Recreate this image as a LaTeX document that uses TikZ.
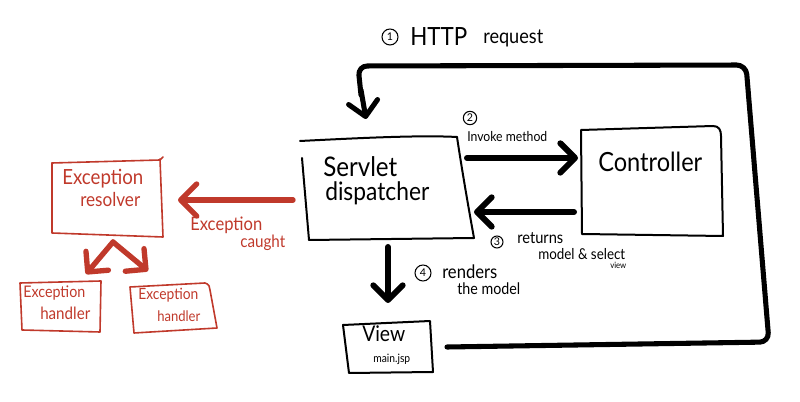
\documentclass[tikz,border=0pt]{standalone}
\usepackage{fontspec}
\setmainfont{Lato}
\usetikzlibrary{arrows.meta}
\definecolor{exred}{RGB}{192,57,43}
\newlength\pxu \setlength\pxu{0.75pt}
\newcommand\tw[2]{\scalebox{1}[1.12]{\resizebox{#1\pxu}{!}{#2}}}
\begin{document}
\begin{tikzpicture}[x=0.75pt,y=-0.75pt,
  lbl/.style={inner sep=0pt, anchor=base west},
  outline/.style={line width=1.5pt, line cap=round, line join=round},
  redline/.style={outline, draw=exred, line width=1.2pt},
  bigarrow/.style={line width=4.5pt, line cap=round, line join=round, -{Straight Barb[length=11pt,width=22pt,round]}},
  redarrow/.style={bigarrow, draw=exred, line width=4pt},
  loopline/.style={line width=3.8pt, line cap=round, line join=round, rounded corners=7pt},
  num/.style={circle, draw, line width=0.8pt, inner sep=0pt, minimum size=#1, font=\fontsize{8}{8}\selectfont},
  num/.default=11pt
 ]
\useasboundingbox (0,0) rectangle (800,402);

% ---------- text nodes ----------
\node[lbl] (servlet) at (323,177) {\tw{74}{Servlet}};
\node[lbl] (dispatcher) at (325,201) {\tw{104}{dispatcher}};
\node[lbl] (controller) at (598,172) {\tw{104}{Controller}};
\node[lbl] (view) at (362,342) {\tw{43}{View}};
\node[lbl] (mainjsp) at (373,363) {\tw{37}{main.jsp}};

\node[num=12pt] (n1) at (390,37) {1};
\node[lbl] (http) at (410,46) {\tw{57}{HTTP}};
\node[lbl] (request) at (483,44) {\tw{60}{request}};

\node[num=10pt] (n2) at (470,118) {2};
\node[lbl] (invoke) at (467,142) {\tw{80}{Invoke method}};

\node[num=9pt] (n3) at (497,242) {3};
\node[lbl] (returns) at (517,244) {\tw{46}{returns}};
\node[lbl] (modelsel) at (538,260) {\tw{87}{model \& select}};
\node[lbl] (viewlbl) at (610,269) {\tw{16}{view}};

\node[num=12pt] (n4) at (423,273) {4};
\node[lbl] (renders) at (442,279) {\tw{55}{renders}};
\node[lbl] (themodel) at (457,295) {\tw{63}{the model}};

\begin{scope}[text=exred]
\node[lbl] (exres1) at (62,185) {\tw{81}{Exception}};
\node[lbl] (exres2) at (80,207) {\tw{60}{resolver}};
\node[lbl] (caught1) at (190,231) {\tw{72}{Exception}};
\node[lbl] (caught2) at (240,248) {\tw{45}{caught}};
\node[lbl] (h1a) at (23,298) {\tw{62}{Exception}};
\node[lbl] (h1b) at (40,320) {\tw{50}{handler}};
\node[lbl] (h2a) at (138,300) {\tw{60}{Exception}};
\node[lbl] (h2b) at (157,322) {\tw{43}{handler}};
\end{scope}

% ---------- hand drawn boxes ----------
% Servlet dispatcher
\draw[outline] (300,141) .. controls (360,138) and (420,135) .. (457,137);
\draw[outline] (457,137) .. controls (462,170) and (468,205) .. (474,238);
\draw[outline] (474,238) -- (309,240);
\draw[outline] (302,158) -- (309,240);
% Controller
\draw[outline] (581,130) -- (713,126) .. controls (719,126) and (721,130) .. (721,136) -- (723,236) -- (582,234) -- cycle;
% View
\draw[outline] (343,325) -- (430,321) -- (433,372) -- (349,373) -- cycle;
% Exception resolver
\draw[redline] (52,163) -- (160,160) -- (163,157);
\draw[redline] (160,159) -- (163,237) -- (52,233) -- (52,163);
% Exception handlers
\draw[redline] (20,283) -- (101,281) -- (100,332) -- (22,330) -- cycle;
\draw[redline] (130,287) -- (205,283) .. controls (209,284) and (210,287) .. (210,290) -- (217,328) -- (134,333) -- cycle;

% ---------- connector end points ----------
\coordinate (loopS) at (447,347);
\coordinate (loopA) at (769,342);
\coordinate (loopB) at (746,65);
\coordinate (loopC) at (358,66);
\coordinate (loopE) at (366,119);
\coordinate (invS) at (467,158);
\coordinate (invE) at (578,158);
\coordinate (retS) at (574,212);
\coordinate (retE) at (474,212);
\coordinate (dwnS) at (388,247);
\coordinate (dwnE) at (388,303);
\coordinate (excS) at (293,200);
\coordinate (excE) at (178,200);
\coordinate (brS) at (113,242);
\coordinate (brL) at (86,274);
\coordinate (brR) at (148,271);

% ---------- connectors ----------
\draw[loopline] (loopS) -- (loopA) -- (loopB) -- (loopC) -- (361,95);
\draw[bigarrow, line width=3.8pt] (361,90) -- (loopE);
\draw[bigarrow] (invS) -- (invE);
\draw[bigarrow] (retS) -- (retE);
\draw[bigarrow] (dwnS) -- (dwnE);
\draw[redarrow, -{Straight Barb[length=12pt,width=24pt,round]}] (excS) -- (excE);
\draw[redarrow] (brS) -- (brL);
\draw[redarrow] (brS) -- (brR);
\end{tikzpicture}
\end{document}
